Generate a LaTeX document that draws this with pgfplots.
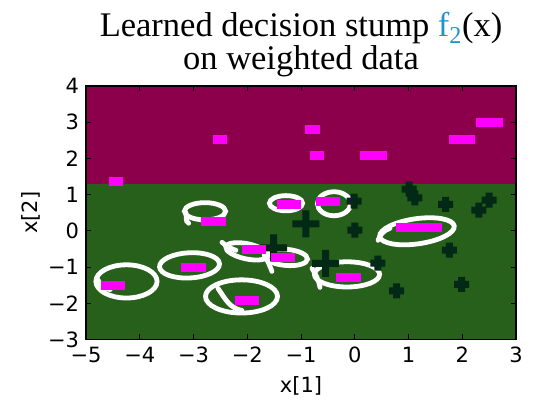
\documentclass[border=0pt]{standalone}
\usepackage{fontspec}
\setmainfont{DejaVu Sans}
\newfontfamily\titlefont{Liberation Serif}
\usepackage{pgfplots}
\usepackage{pgfplotstable}
\pgfplotsset{compat=1.18}
\definecolor{topc}{RGB}{140,0,75}
\definecolor{botc}{RGB}{39,96,27}
\definecolor{crossc}{RGB}{2,40,22}
\definecolor{magc}{RGB}{255,0,255}
\definecolor{fblue}{RGB}{33,148,204}

\pgfdeclareplotmark{hbar}{\pgfpathrectangle{\pgfpoint{-0.5*\wid pt}{-4.5pt}}{\pgfpoint{\wid pt}{9pt}}\pgfusepathqfill}
\pgfdeclareplotmark{smallplus}{\pgfpathrectangle{\pgfpoint{-7.5pt}{-3.5pt}}{\pgfpoint{15pt}{7pt}}\pgfpathrectangle{\pgfpoint{-3.5pt}{-7.5pt}}{\pgfpoint{7pt}{15pt}}\pgfusepathqfill}
\pgfdeclareplotmark{bigplus}{\pgfpathrectangle{\pgfpoint{-13.5pt}{-3.5pt}}{\pgfpoint{27pt}{7pt}}\pgfpathrectangle{\pgfpoint{-3.5pt}{-13.5pt}}{\pgfpoint{7pt}{27pt}}\pgfusepathqfill}

\pgfplotstableread{
x y w
-4.44 1.36 14
-2.51 2.51 14
-0.78 2.80 15
-0.70 2.08 14
0.35 2.08 27
2.00 2.51 26
2.51 2.99 27
-2.63 0.26 25
-3.00 -1.01 25
-4.49 -1.50 24
-2.00 -1.92 24
-1.87 -0.51 24
-1.33 -0.73 24
-1.23 0.74 24
-0.50 0.80 24
1.20 0.085 46
-0.12 -1.285 25
}\posdata

\pgfplotstableread{
x y
1.01 1.15
1.12 0.91
1.69 0.73
2.50 0.85
2.31 0.57
0.00 0.02
1.76 -0.53
0.43 -0.89
0.78 -1.66
1.99 -1.48
-0.01 0.82
}\negsmall

\pgfplotstableread{
x y
-0.91 0.19
-0.54 -0.90
-1.51 -0.47
}\neglarge

\begin{document}
\begin{tikzpicture}
\begin{axis}[
  scale only axis,
  width=430pt, height=253.5pt,
  xmin=-5, xmax=3, ymin=-3, ymax=4,
  axis on top,
  clip=true,
  xtick={-5,-4,-3,-2,-1,0,1,2,3},
  xticklabels={−5,−4,−3,−2,−1,0,1,2,3},
  ytick={-3,-2,-1,0,1,2,3,4},
  yticklabels={−3,−2,−1,0,1,2,3,4},
  tick align=inside,
  major tick length=5pt,
  every tick/.style={black, line width=0.9pt},
  axis line style={black, line width=1.2pt},
  xticklabel style={anchor=base, inner sep=0pt, yshift=-23.3pt, font=\fontsize{21}{21}\selectfont},
  yticklabel style={anchor=east, inner sep=0pt, xshift=-6.7pt, font=\fontsize{21}{21}\selectfont},
  every axis x label/.style={at={(axis description cs:0.5,-0.211)}, anchor=base, font=\fontsize{21}{21}\selectfont},
  every axis y label/.style={at={(axis description cs:-0.1135,0.5)}, rotate=90, anchor=base, font=\fontsize{21}{21}\selectfont},
  xlabel={x[1]},
  ylabel={x[2]},
  every axis title/.style={at={(axis description cs:0.5,1)}, anchor=south, yshift=9pt, align=center, inner sep=0pt, font=\titlefont\fontsize{34.5}{33.3}\selectfont},
  title={Learned decision stump \textcolor{fblue}{f\textsubscript{2}}(x)\\on weighted data},
]
\addplot[draw=none, fill=topc] coordinates {(-5,1.3) (3,1.3) (3,4) (-5,4)} -- cycle;
\addplot[draw=none, fill=botc] coordinates {(-5,-3) (3,-3) (3,1.3) (-5,1.3)} -- cycle;

\addplot[only marks, mark=smallplus, color=crossc] table[x=x, y=y] {\negsmall};
\addplot[only marks, mark=bigplus, color=crossc] table[x=x, y=y] {\neglarge};

\addplot[only marks, mark=hbar, color=magc, visualization depends on={\thisrow{w} \as \wid}] table[x=x, y=y] {\posdata};

\begin{scope}[white, line width=4.8pt, line cap=round]
\draw (axis cs:-2.786,0.541) ellipse [x radius=20.6pt, y radius=8.6pt];
\draw (axis cs:-3.14,0.50) to[out=-80,in=150] (axis cs:-3.09,0.21);
\draw (axis cs:-3.074,-0.953) ellipse [x radius=30pt, y radius=12.6pt, rotate=3];
\draw (axis cs:-4.247,-1.396) ellipse [x radius=30.6pt, y radius=16.6pt];
\draw (axis cs:-4.80,-1.30) to[out=-60,in=180] (axis cs:-4.55,-1.62);
\draw (axis cs:-2.107,-1.811) ellipse [x radius=36pt, y radius=16.6pt];
\draw (axis cs:-2.544,-1.589) to[out=-55,in=170] (axis cs:-2.098,-2.198);
\draw (axis cs:-2.005,-0.566) ellipse [x radius=21.6pt, y radius=7.6pt, rotate=-12];
\draw (axis cs:-2.470,-0.317) to[out=-40,in=160] (axis cs:-2.209,-0.538);
\draw (axis cs:-1.279,-0.732) ellipse [x radius=21.6pt, y radius=8.1pt, rotate=-5];
\draw (axis cs:-1.707,-0.538) to[out=-70,in=110] (axis cs:-1.540,-1.119);
\draw (axis cs:-1.279,0.763) ellipse [x radius=16.6pt, y radius=7.6pt];
\draw (axis cs:-0.386,0.749) ellipse [x radius=16.6pt, y radius=12pt];
\draw (axis cs:1.158,-0.012) ellipse [x radius=37.6pt, y radius=12.6pt, rotate=8];
\draw (axis cs:0.433,-0.261) to[out=70,in=200] (axis cs:0.656,0.071);
\draw (axis cs:-0.144,-1.202) ellipse [x radius=32.6pt, y radius=12.6pt];
\draw (axis cs:-0.795,-1.036) to[out=-60,in=100] (axis cs:-0.647,-1.562);
\end{scope}
\end{axis}
\path (current axis.south west) ++(-86pt,-56.5pt);
\path (current axis.north east) ++(23pt,86pt);
\end{tikzpicture}
\end{document}
